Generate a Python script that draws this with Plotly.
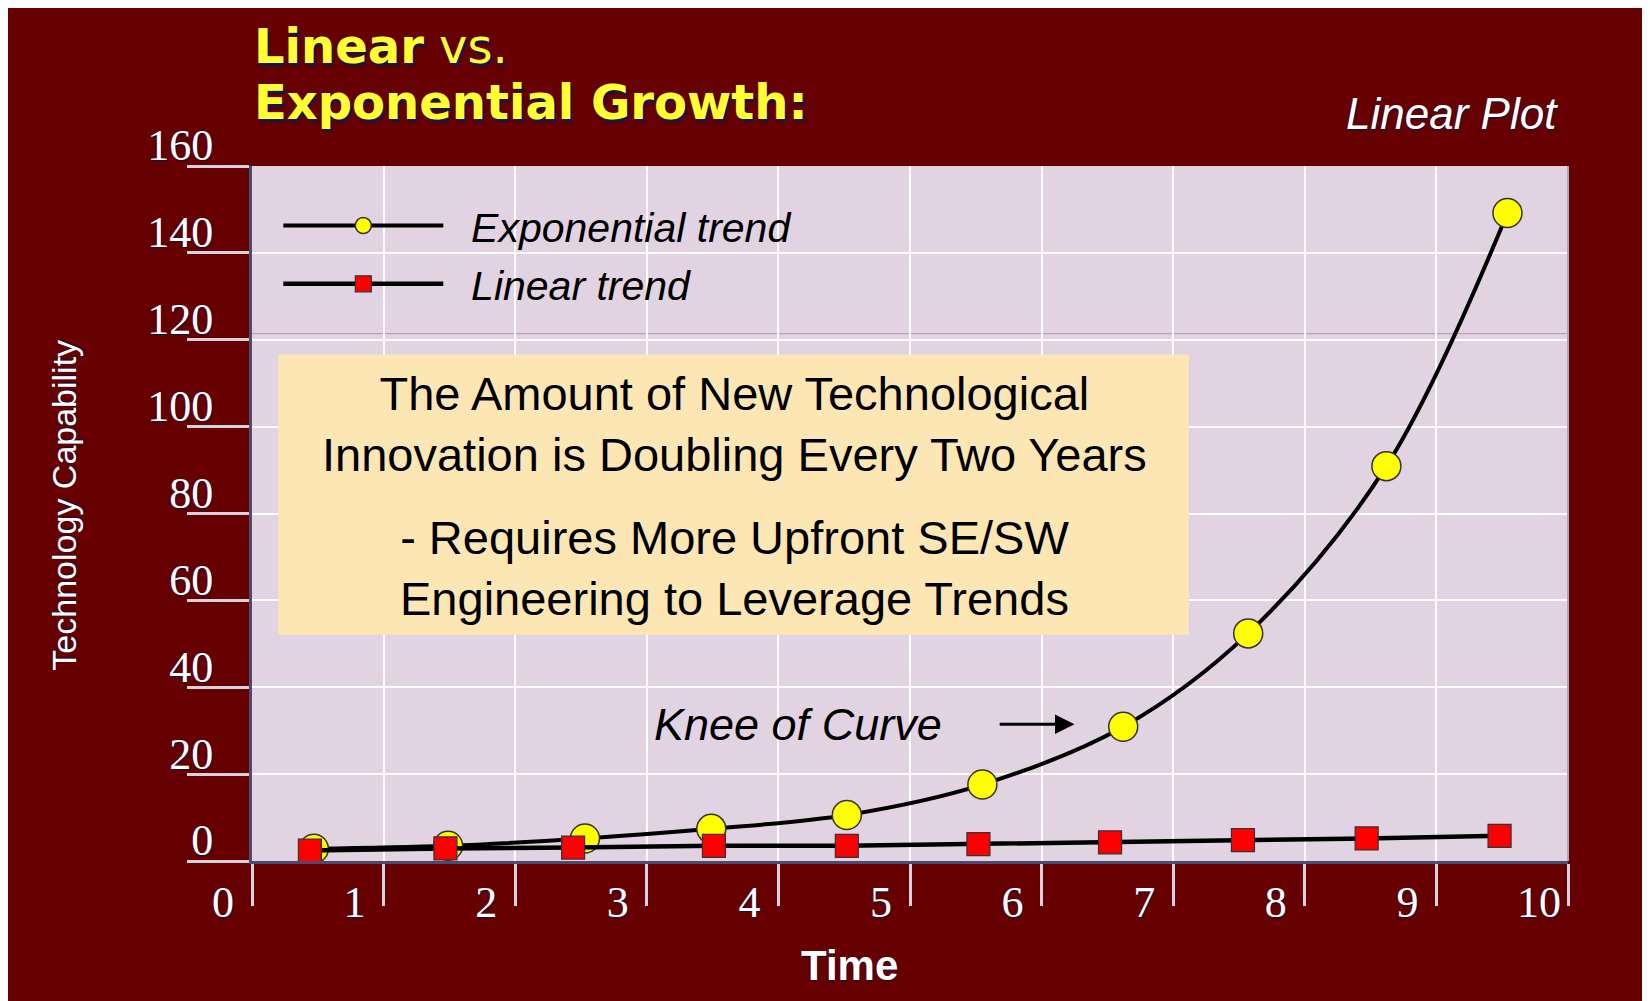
"""
    Linear vs. exponential growth chart
"""

import plotly.graph_objs as go

# values
TIME_EXP = [0.47, 1.49, 2.53, 3.49, 4.52, 5.55, 6.62, 7.57, 8.62, 9.54]
CAP_EXP = [2.8, 3.5, 5.2, 7.4, 10.6, 17.6, 30.9, 52.4, 90.9, 149.2]

TIME_LIN = [0.44, 1.47, 2.44, 3.51, 4.52, 5.52, 6.52, 7.53, 8.47, 9.48]
CAP_LIN = [2.4, 2.9, 3.1, 3.5, 3.5, 3.9, 4.3, 4.8, 5.2, 5.8]

X_TICKS = [0, 1, 2, 3, 4, 5, 6, 7, 8, 9, 10]
Y_TICKS = [0, 20, 40, 60, 80, 100, 120, 140, 160]

NAMES = ["\u00a0\u00a0Exponential trend", "\u00a0\u00a0Linear trend"]
TITLE_1 = "<b>Linear</b> vs."
TITLE_2 = "<b>Exponential Growth:</b>"
NOTE_1 = "The Amount of New Technological<br>Innovation is Doubling Every Two Years"
NOTE_2 = "- Requires More Upfront SE/SW<br>Engineering to Leverage Trends"

BG = "#660000"
PLOT_BG = "#E1D3E2"
SANS = "Liberation Sans, Arial, sans-serif"
WIDE = "DejaVu Sans, Liberation Sans, sans-serif"
SERIF = "Liberation Serif, Times New Roman, serif"
SHADOW = "1px 1px 1px #10103a"
TICK_FONT = dict(family=SERIF, size=44, color="white", shadow=SHADOW)
TITLE_FONT = dict(family=WIDE, size=48, color="#FFFF33", shadow="2px 3px 1px #15154a")


def growth_plot():
    data = [
        go.Scatter(x=TIME_EXP, y=CAP_EXP, name=NAMES[0], mode="lines+markers",
                   line=dict(color="black", width=4, shape="spline"),
                   marker=dict(symbol="circle", size=29, color="#FFFF00",
                               line=dict(color="#333333", width=1.5)),
                   legendgroup="a"),
        go.Scatter(x=TIME_LIN, y=CAP_LIN, name=NAMES[1], mode="lines+markers",
                   line=dict(color="black", width=4.5),
                   marker=dict(symbol="square", size=23, color="#FF0000",
                               line=dict(color="#333333", width=1.2)),
                   legendgroup="b"),
    ]

    annotations = [
        dict(text=TITLE_1, xref="paper", yref="paper", x=0.0, y=1.173,
             xanchor="left", yanchor="middle", showarrow=False, font=TITLE_FONT),
        dict(text=TITLE_2, xref="paper", yref="paper", x=0.0, y=1.092,
             xanchor="left", yanchor="middle", showarrow=False, font=TITLE_FONT),
        dict(text="Linear Plot", xref="paper", yref="paper", x=0.994, y=1.075,
             xanchor="right", yanchor="middle", showarrow=False,
             font=dict(family=SANS, size=44, color="white", style="italic", shadow=SHADOW)),
        dict(text="<b>Time</b>", xref="paper", yref="paper", x=0.454, y=-0.151,
             xanchor="center", yanchor="middle", showarrow=False,
             font=dict(family=SANS, size=42, color="white", shadow=SHADOW)),
        dict(text="Technology Capability", xref="paper", yref="paper", x=-0.1425, y=0.512,
             xanchor="center", yanchor="middle", showarrow=False, textangle=-90,
             font=dict(family=SANS, size=34, color="white", shadow=SHADOW)),
        dict(text=NOTE_1, x=3.67, y=100.7, showarrow=False,
             font=dict(family=SANS, size=47, color="black")),
        dict(text=NOTE_2, x=3.67, y=67.4, showarrow=False,
             font=dict(family=SANS, size=47, color="black")),
        dict(text="Knee of Curve", x=4.15, y=31.5, showarrow=False,
             font=dict(family=SANS, size=45, color="black", style="italic")),
        dict(text="", x=6.25, y=31.5, ax=5.67, ay=31.5, axref="x", ayref="y",
             showarrow=True, arrowhead=2, arrowsize=1.3, arrowwidth=3,
             arrowcolor="black"),
    ]

    shapes = [
        dict(type="rect", x0=0.2, x1=7.12, y0=52.1, y1=116.6, layer="between",
             fillcolor="#FCE7B4", line=dict(width=0)),
        dict(type="line", xref="paper", x0=0, x1=1, y0=121.4, y1=121.4,
             layer="between", line=dict(color="#B896AE", width=1)),
        dict(type="line", xref="paper", yref="paper", x0=1, x1=1, y0=0, y1=1,
             line=dict(color="#A8A8C0", width=2)),
    ]

    layout = go.Layout(
        width=1650, height=1001,
        paper_bgcolor=BG, plot_bgcolor=PLOT_BG,
        margin=dict(l=244, r=90, t=158, b=148),
        showlegend=True,
        legend=dict(x=0.02, y=0.962, xanchor="left", yanchor="top",
                    bgcolor="rgba(0,0,0,0)", itemwidth=160, tracegroupgap=2,
                    font=dict(family=SANS, size=41, color="black", style="italic")),
        xaxis=dict(range=[0, 10], tickvals=X_TICKS, ticks="outside", ticklen=42,
                   tickwidth=2.5, tickcolor="#D4D4E0", tickfont=TICK_FONT,
                   ticklabelshift=-29, ticklabelstandoff=-42,
                   showgrid=True, gridcolor="white", gridwidth=2,
                   zeroline=False, showline=True, linecolor="#4B4B6E", linewidth=3),
        yaxis=dict(range=[0, 160], tickvals=Y_TICKS, ticks="outside", ticklen=62,
                   tickwidth=2.5, tickcolor="#D4D4E0", tickfont=TICK_FONT,
                   ticklabelshift=-21, ticklabelstandoff=-35,
                   showgrid=True, gridcolor="white", gridwidth=2,
                   zeroline=False, showline=True, linecolor="#4B4B6E", linewidth=3),
        annotations=annotations,
        shapes=shapes,
    )
    return go.Figure(data=data, layout=layout)


fig = growth_plot()
fig.write_html("out.html")
